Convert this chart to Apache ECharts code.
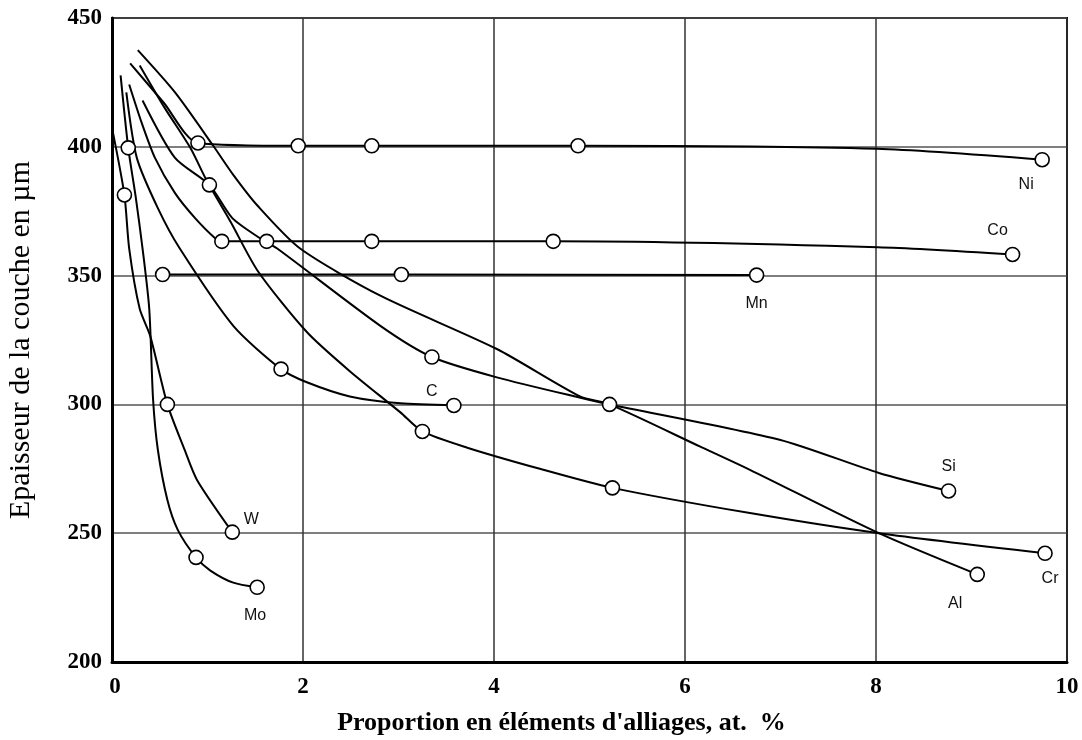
<!DOCTYPE html>
<html>
<head>
<meta charset="utf-8">
<script src="https://cdn.jsdelivr.net/npm/echarts@6/dist/echarts.min.js"></script>
<style>
  html, body { margin: 0; padding: 0; background: #fff; }
  #chart { width: 1082px; height: 740px; }
</style>
</head>
<body>
<div id="chart"></div>
<script>
// Layer thickness (µm) versus alloying element content (at. %)
const xTicks = [0, 2, 4, 6, 8, 10];
const yTicks = [200, 250, 300, 350, 400, 450];

const names = ['Ni', 'Co', 'Mn', 'C', 'Si', 'Cr', 'Al', 'W', 'Mo'];

const niX = [0.19, 0.54, 0.90, 1.95, 2.72, 4.88, 8.01, 9.74];
const niY = [432.4, 417.2, 401.5, 400.4, 400.4, 400.4, 399.2, 395.0];
const niMarks = [2, 3, 4, 5, 7];

const coX = [0.18, 0.31, 0.45, 0.66, 0.87, 1.08, 1.15, 1.62, 2.72, 4.62, 8.02, 9.43];
const coY = [424.2, 409.4, 395.7, 382.0, 372.3, 364.5, 363.3, 363.3, 363.3, 363.3, 361.0, 358.2];
const coMarks = [6, 7, 8, 9, 11];

const mnX = [0.53, 3.03, 6.75];
const mnY = [350.4, 350.4, 350.2];
const mnMarks = [0, 1, 2];

const cX = [0.15, 0.26, 0.48, 0.71, 1.27, 1.77, 2.04, 2.49, 3.02, 3.58];
const cY = [421.1, 395.7, 376.2, 360.5, 330.5, 313.7, 308.6, 303.1, 300.4, 299.6];
const cMarks = [5, 9];

const siX = [0.32, 0.66, 1.02, 1.26, 1.55, 1.73, 2.81, 3.35, 4.03, 4.97, 5.21, 6.99, 8.03, 8.76];
const siY = [418.0, 395.7, 385.2, 372.3, 364.5, 360.5, 330.5, 318.4, 310.5, 302.0, 300.0, 286.3, 273.4, 266.4];
const siMarks = [2, 7, 10, 13];

const crX = [0.29, 0.55, 0.82, 0.99, 1.24, 1.53, 2.04, 2.49, 3.02, 3.25, 3.72, 4.48, 5.24, 6.68, 8.03, 9.77];
const crY = [431.6, 415.2, 399.6, 387.0, 371.0, 351.6, 328.1, 312.9, 296.9, 289.5, 283.2, 275.0, 267.6, 257.8, 250.0, 242.2];
const crMarks = [9, 12, 15];

const alX = [0.27, 0.66, 1.06, 1.27, 1.52, 1.97, 2.81, 4.03, 4.90, 5.21, 6.16, 6.68, 8.03, 9.06];
const alY = [437.5, 421.1, 400.4, 389.1, 377.3, 360.5, 342.2, 321.5, 303.1, 300.0, 283.6, 274.6, 250.0, 234.0];
const alMarks = [13];

const wX = [0.01, 0.13, 0.18, 0.29, 0.40, 0.58, 0.76, 0.89, 1.26];
const wY = [405.5, 381.3, 360.5, 337.1, 326.6, 300.0, 282.4, 270.7, 250.4];
const wMarks = [1, 5, 8];

const moX = [0.09, 0.17, 0.25, 0.32, 0.39, 0.43, 0.48, 0.58, 0.69, 0.88, 1.03, 1.27, 1.52];
const moY = [427.7, 399.6, 380.1, 360.5, 337.1, 302.0, 282.4, 262.9, 251.2, 240.6, 235.5, 230.8, 229.0];
const moMarks = [1, 9, 12];

const curves = [
  [niX, niY, niMarks], [coX, coY, coMarks], [mnX, mnY, mnMarks],
  [cX, cY, cMarks], [siX, siY, siMarks], [crX, crY, crMarks],
  [alX, alY, alMarks], [wX, wY, wMarks], [moX, moY, moMarks]
];

// where each element name sits relative to its last marker (pixels)
const labelOffset = {
  Ni: [-16, 25], Co: [-15, -24], Mn: [0, 29], C: [-22, -14], Si: [0, -24],
  Cr: [5, 25], Al: [-22, 29], W: [19, -13], Mo: [-2, 28]
};

const serif = 'Liberation Serif, Times New Roman, serif';

const series = [];
curves.forEach(([xs, ys, marks], k) => {
  const name = names[k];
  series.push({
    type: 'line',
    name: name,
    data: xs.map((x, i) => [x, ys[i]]),
    smooth: 0.25,
    symbol: 'none',
    lineStyle: { color: '#000', width: 2 },
    z: 2,
    silent: true
  });
  const last = xs.length - 1;
  series.push({
    type: 'scatter',
    name: name + ' points',
    data: marks.map(i => ({
      value: [xs[i], ys[i]],
      label: i === last ? {
        show: true,
        position: 'inside',
        offset: labelOffset[name],
        formatter: name,
        color: '#111',
        fontFamily: 'Liberation Sans, Arial, sans-serif',
        fontSize: 16
      } : { show: false }
    })),
    symbol: 'circle',
    symbolSize: 14,
    itemStyle: { color: '#fff', borderColor: '#000', borderWidth: 1.6, opacity: 1 },
    z: 5,
    silent: true
  });
});

const chart = echarts.init(document.getElementById('chart'), null, { renderer: 'canvas' });
chart.setOption({
  animation: false,
  backgroundColor: '#fff',
  grid: {
    left: 112, right: 15, top: 18, bottom: 78,
    containLabel: false,
    outerBoundsMode: 'none',
    show: true, borderColor: '#000', borderWidth: 2, backgroundColor: 'transparent'
  },
  xAxis: {
    type: 'value',
    min: xTicks[0], max: xTicks[xTicks.length - 1], interval: 2,
    name: "Proportion en éléments d'alliages, at.  %",
    nameLocation: 'middle',
    nameGap: 48,
    nameTextStyle: { fontFamily: serif, fontSize: 26, fontWeight: 'bold', color: '#000', padding: [0, 56, 0, 0] },
    axisLine: { show: true, lineStyle: { color: '#000', width: 3 } },
    axisTick: { show: false },
    axisLabel: {
      fontFamily: serif, fontSize: 23, fontWeight: 'bold',
      color: '#000', margin: 14,
      formatter: v => (v === 0 ? ' 0' : String(v))
    },
    splitLine: { show: true, lineStyle: { color: '#333', width: 1.5 } }
  },
  yAxis: {
    type: 'value',
    min: yTicks[0], max: yTicks[yTicks.length - 1], interval: 50,
    name: 'Epaisseur de la couche en µm',
    nameLocation: 'middle',
    nameGap: 76,
    nameRotate: 90,
    nameTextStyle: { fontFamily: serif, fontSize: 30, color: '#000' },
    axisLine: { show: true, lineStyle: { color: '#000', width: 3 } },
    axisTick: { show: false },
    axisLabel: {
      fontFamily: serif, fontSize: 23, fontWeight: 'bold',
      color: '#000', margin: 10
    },
    splitLine: { show: true, lineStyle: { color: '#555', width: 1.5 } }
  },
  series: series
});
</script>
</body>
</html>
